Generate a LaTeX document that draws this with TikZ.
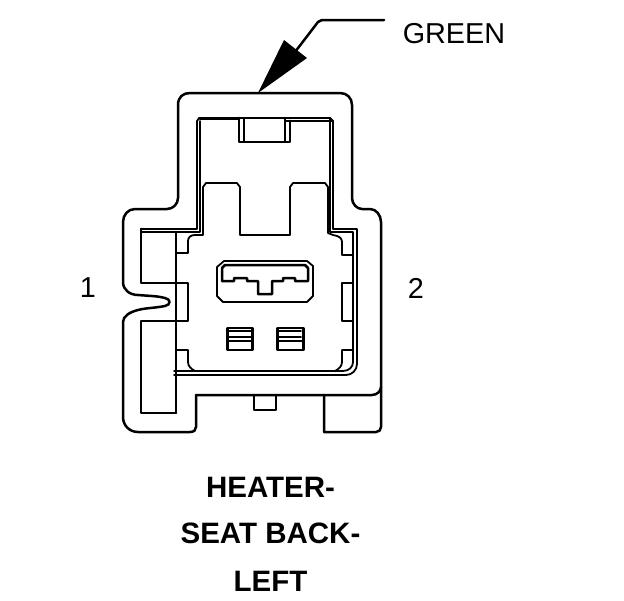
\documentclass[tikz,border=0pt]{standalone}
\usepackage{fontspec}
\setmainfont{Liberation Sans}
\tikzset{
  ln/.style={line width=1.8pt,line join=round,line cap=round,black},
  hv/.style={line width=2.8pt,line join=round,line cap=round,black},
  sh/.style={line width=2.5pt,line join=round,line cap=round,black},
  lbl/.style={font=\fontsize{28.8}{30}\selectfont,inner sep=0pt,anchor=center},
  ttl/.style={font=\fontsize{29.5}{32}\selectfont\bfseries,inner sep=0pt,anchor=center}
}
\begin{document}
\begin{tikzpicture}[x=1pt,y=-1pt]
\useasboundingbox (0,0) rectangle (624,600);
% arrow
\node[lbl] (green) at (454,34) {GREEN};
\coordinate (lineEnd) at (384,20);
\coordinate (tip) at (258,93);
\draw[sh] (lineEnd) -- (322,20) -- (318,22) -- (295,52);
\fill[black] (tip) -- (284,40) -- (307,58) -- cycle;
% outer shell
\draw[sh] (196,395) -- (372,395) .. controls (377,395) and (381,391) .. (381,387);
\draw[sh] (178,105) .. controls (178,97) and (183,93) .. (190,93) -- (340,93)
  .. controls (347,93) and (352,98) .. (352,105) -- (352,198)
  .. controls (352,204) and (357,209) .. (362,209) -- (370,209)
  .. controls (376,209) and (381,215) .. (381,222) -- (381,427)
  .. controls (381,430) and (379,432) .. (376,432) -- (324,432) -- (324,395);
\draw[sh] (178,105) -- (178,198) .. controls (178,204) and (173,209) .. (167,209)
  -- (135,209) .. controls (128,209) and (123,215) .. (123,222) -- (123,282)
  .. controls (123,290) and (130,295) .. (138,295)
  .. controls (150,296) and (158,296) .. (165,298)
  .. controls (171,299) and (171,305) .. (165,306)
  .. controls (155,308) and (145,308) .. (138,310)
  .. controls (130,312) and (123,316) .. (123,322) -- (123,417)
  .. controls (123,426) and (130,432) .. (138,432) -- (190,432)
  .. controls (194,432) and (196,430) .. (196,427) -- (196,395);
% cavity frame, double line
\draw[hv] (200,119) -- (239,119);
\draw[ln] (197,121) -- (199,118) -- (330,118) -- (333,121) -- (333,229) -- (357,229) -- (357,364)
  .. controls (357,370) and (352,375) .. (346,375) -- (174,375);
\draw[ln] (197,121) -- (197,229) -- (141,229);
\draw[ln] (200,121) -- (200,232) -- (141,232);
\draw[ln] (330,118) -- (330,232) -- (353,232) -- (353,362)
  .. controls (353,367) and (349,371) .. (343,371) -- (174,371);
\draw[ln] (285,121) -- (333,121);
% latch window
\draw[hv] (141,229) -- (141,283) -- (188,283) -- (188,321) -- (141,321) -- (141,413) -- (176,413);
\draw[ln] (176,232) -- (176,413);
% top tab
\draw[hv] (239,118) -- (239,142) -- (290,142) -- (290,121);
\draw[ln] (244,118) -- (244,142);
\draw[ln] (285,118) -- (285,142);
% body
\draw[ln] (176,253) -- (188,253) -- (188,241) .. controls (188,237) and (191,235) .. (195,235) -- (203,235)
  -- (203,187) -- (206,183) -- (237,183) -- (240,187) -- (240,235) -- (290,235) -- (290,187)
  -- (293,183) -- (325,183) -- (328,187) -- (328,233) -- (333,235) .. controls (339,236) and (342,238) .. (342,242)
  -- (342,255) -- (353,255);
\draw[ln] (353,283) -- (342,283) -- (342,321) -- (353,321);
\draw[ln] (176,350) -- (188,350) -- (188,362) .. controls (188,366) and (191,369) .. (195,371);
\draw[ln] (353,350) -- (342,350) -- (342,362) .. controls (342,366) and (339,369) .. (335,371);
% socket
\draw[ln] (224,261) -- (307,261) -- (313,266) -- (313,296) -- (307,302) -- (223,302)
  -- (217,296) -- (217,267) -- cycle;
\draw[sh] (222,281) -- (222,268) -- (225,265) -- (305,265) -- (308,268) -- (308,281) -- (295,281) -- (295,278)
  -- (283,278) -- (283,281) -- (272,281) -- (272,294) -- (258,294) -- (258,281) -- (247,281) -- (247,278) -- (234,278) -- (234,281) -- cycle;
% contact windows
\draw[hv] (227.5,328) rectangle (252.5,350);
\draw[hv] (227.5,341) -- (252.5,341);
\draw[ln] (229,337) -- (251,337);
\draw[ln] (229,331) -- (251,331);
\draw[hv] (277.5,328) rectangle (303.5,350);
\draw[hv] (277.5,341) -- (303.5,341);
\draw[ln] (279,337) -- (301,337);
\draw[ln] (279,331) -- (301,331);
% bottom key
\draw[ln] (254,395) -- (254,410) -- (276,410) -- (276,395);
% labels
\node[lbl] (one) at (88,288) {1};
\node[lbl] (two) at (416,288) {2};
\node[ttl] (t1) at (270.5,487) {HEATER-};
\node[ttl] (t2) at (270.5,533) {SEAT BACK-};
\node[ttl] (t3) at (270.5,581) {LEFT};
\end{tikzpicture}
\end{document}
